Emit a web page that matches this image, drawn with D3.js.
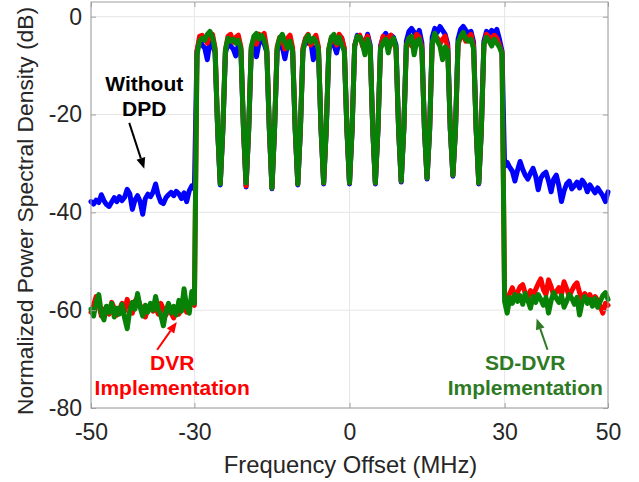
<!DOCTYPE html>
<html>
<head>
<meta charset="utf-8">
<script src="https://cdn.jsdelivr.net/npm/d3@7"></script>
<style>
  body { margin: 0; background: #fff; }
  svg { display: block; font-family: "Liberation Sans", Arial, sans-serif; }
</style>
</head>
<body>
<svg id="chart"></svg>
<script>
// frequency offset grid (MHz), one row = 5 MHz
const freq = [
  -50,-49.5,-49,-48.5,-48,-47.5,-47,-46.5,-46,-45.5,
  -45,-44.5,-44,-43.5,-43,-42.5,-42,-41.5,-41,-40.5,
  -40,-39.5,-39,-38.5,-38,-37.5,-37,-36.5,-36,-35.5,
  -35,-34.5,-34,-33.5,-33,-32.5,-32,-31.5,-31,-30.5,
  -30,-29.5,-29,-28.5,-28,-27.5,-27,-26.5,-26,-25.5,
  -25,-24.5,-24,-23.5,-23,-22.5,-22,-21.5,-21,-20.5,
  -20,-19.5,-19,-18.5,-18,-17.5,-17,-16.5,-16,-15.5,
  -15,-14.5,-14,-13.5,-13,-12.5,-12,-11.5,-11,-10.5,
  -10,-9.5,-9,-8.5,-8,-7.5,-7,-6.5,-6,-5.5,
  -5,-4.5,-4,-3.5,-3,-2.5,-2,-1.5,-1,-0.5,
  0,0.5,1,1.5,2,2.5,3,3.5,4,4.5,
  5,5.5,6,6.5,7,7.5,8,8.5,9,9.5,
  10,10.5,11,11.5,12,12.5,13,13.5,14,14.5,
  15,15.5,16,16.5,17,17.5,18,18.5,19,19.5,
  20,20.5,21,21.5,22,22.5,23,23.5,24,24.5,
  25,25.5,26,26.5,27,27.5,28,28.5,29,29.5,
  30,30.5,31,31.5,32,32.5,33,33.5,34,34.5,
  35,35.5,36,36.5,37,37.5,38,38.5,39,39.5,
  40,40.5,41,41.5,42,42.5,43,43.5,44,44.5,
  45,45.5,46,46.5,47,47.5,48,48.5,49,49.5,
  50
];

// normalized PSD (dB), without DPD
const withoutDpd = [
  -37.8,-38.3,-37.5,-38.0,-36.4,-37.6,-38.4,-38.8,-37.9,-37.0,
  -37.8,-36.8,-37.6,-36.9,-35.3,-36.2,-39.4,-37.5,-36.6,-37.8,
  -40.4,-37.2,-36.3,-36.8,-35.9,-34.2,-36.5,-37.9,-38.2,-37.0,
  -36.4,-35.9,-36.6,-35.7,-36.2,-37.2,-36.0,-37.8,-35.6,-34.6,
  -35.2,-7.0,-4.6,-5.8,-6.4,-8.8,-5.2,-5.6,-7.4,-23.2,
  -34.4,-23.2,-7.4,-5.4,-6.0,-6.6,-8.0,-5.8,-7.0,-23.2,
  -34.8,-23.2,-6.8,-5.0,-8.2,-5.4,-4.6,-5.6,-7.2,-23.2,
  -35.2,-23.2,-7.0,-5.6,-6.2,-8.6,-5.8,-4.8,-7.0,-23.2,
  -34.4,-23.2,-6.8,-4.6,-5.4,-5.0,-8.8,-6.2,-7.0,-23.2,
  -34.2,-23.2,-7.0,-4.8,-5.8,-7.4,-5.0,-4.4,-6.8,-23.2,
  -34.2,-23.2,-6.0,-3.8,-4.2,-4.8,-5.6,-3.6,-5.8,-23.2,
  -34.2,-23.2,-6.0,-4.2,-3.4,-4.6,-3.8,-4.2,-5.8,-23.2,
  -33.8,-23.2,-5.0,-3.0,-2.4,-3.2,-3.8,-2.8,-5.4,-23.2,
  -33.2,-23.2,-4.2,-2.4,-3.2,-2.0,-2.8,-3.6,-5.6,-23.2,
  -32.6,-23.2,-4.6,-2.6,-2.0,-2.8,-3.4,-3.0,-5.2,-23.2,
  -34.2,-23.2,-5.0,-3.0,-3.6,-2.8,-3.4,-2.6,-4.6,-7.0,
  -30.6,-29.8,-30.8,-31.6,-33.6,-31.4,-29.6,-31.2,-32.4,-33.2,
  -32.0,-31.0,-32.6,-35.4,-33.0,-32.2,-31.8,-33.6,-35.8,-33.2,
  -32.4,-34.6,-37.8,-35.6,-34.2,-33.6,-35.2,-34.6,-33.8,-35.0,
  -33.4,-34.2,-35.8,-34.4,-35.2,-36.0,-35.0,-35.8,-36.6,-37.8,
  -35.8
];

// DVR implementation
const dvr = [
  -60.4,-59.0,-57.2,-58.8,-61.2,-60.0,-59.3,-60.8,-58.4,-59.6,
  -61.0,-59.8,-58.6,-60.2,-57.8,-59.4,-60.6,-58.2,-57.4,-59.0,
  -60.3,-61.4,-59.6,-58.8,-60.2,-59.2,-60.8,-58.6,-59.8,-61.0,
  -59.6,-60.6,-61.6,-59.4,-60.8,-59.6,-58.8,-60.4,-59.2,-58.4,
  -59.0,-7.2,-4.0,-3.8,-4.6,-5.4,-3.8,-3.6,-6.4,-23.0,
  -34.0,-23.0,-6.8,-4.0,-3.6,-5.2,-4.2,-3.8,-6.2,-23.0,
  -34.6,-23.0,-6.4,-4.4,-5.6,-3.6,-4.0,-3.4,-6.6,-23.0,
  -35.0,-23.0,-6.2,-4.2,-4.8,-6.6,-4.4,-3.8,-6.4,-23.0,
  -34.2,-23.0,-6.4,-4.4,-3.6,-5.8,-4.8,-3.8,-6.2,-23.0,
  -34.0,-23.0,-6.6,-4.2,-4.6,-5.8,-3.6,-4.4,-6.4,-23.0,
  -34.0,-23.0,-5.8,-4.2,-3.8,-6.0,-4.8,-4.0,-6.4,-23.0,
  -34.0,-23.0,-6.4,-4.0,-5.6,-4.2,-3.8,-5.2,-6.6,-23.0,
  -33.6,-23.0,-5.8,-4.4,-6.0,-4.6,-3.6,-4.2,-6.2,-23.0,
  -33.0,-23.0,-5.6,-3.8,-4.4,-5.6,-4.6,-4.0,-6.4,-23.0,
  -32.4,-23.0,-5.6,-4.2,-3.8,-5.0,-4.2,-3.6,-6.0,-23.0,
  -34.0,-23.0,-5.8,-3.6,-4.2,-4.8,-3.8,-4.4,-5.8,-7.4,
  -57.0,-57.8,-56.6,-55.4,-57.2,-56.4,-55.2,-54.8,-56.6,-57.4,
  -56.0,-57.0,-55.8,-54.6,-53.6,-55.8,-56.8,-53.8,-55.2,-57.0,
  -56.2,-55.4,-56.8,-54.2,-55.6,-57.2,-56.0,-55.0,-54.4,-56.4,
  -57.8,-56.6,-57.6,-56.8,-58.4,-57.2,-58.0,-59.2,-60.6,-58.6,
  -59.0
];

// SD-DVR implementation
const sdDvr = [
  -59.8,-61.2,-58.4,-56.8,-60.6,-62.0,-59.2,-60.4,-58.6,-61.4,
  -59.6,-60.8,-58.8,-61.6,-63.8,-60.0,-58.4,-59.8,-56.6,-59.4,
  -61.2,-59.0,-60.4,-58.6,-60.0,-57.2,-59.8,-61.0,-63.2,-60.2,
  -58.6,-60.6,-59.2,-61.0,-58.0,-60.2,-55.6,-59.4,-60.6,-56.2,
  -58.6,-7.8,-5.0,-4.4,-4.8,-3.6,-3.0,-4.2,-6.8,-23.0,
  -34.2,-23.0,-6.8,-4.4,-5.0,-4.6,-5.4,-4.8,-6.6,-23.0,
  -34.0,-23.0,-6.2,-4.0,-3.4,-4.6,-3.8,-4.8,-7.0,-23.0,
  -35.0,-23.0,-6.6,-4.4,-3.6,-5.2,-6.4,-5.0,-7.2,-23.0,
  -34.2,-23.0,-7.0,-4.8,-3.8,-5.2,-4.4,-5.0,-6.8,-23.0,
  -34.0,-23.0,-6.6,-4.2,-3.6,-5.4,-4.2,-5.8,-7.0,-23.0,
  -34.0,-23.0,-6.0,-4.0,-4.2,-5.6,-7.8,-4.6,-6.2,-23.0,
  -34.0,-23.0,-6.6,-5.2,-4.6,-7.4,-5.0,-4.4,-6.4,-23.0,
  -33.6,-23.0,-6.0,-4.4,-4.0,-7.8,-5.0,-4.6,-6.8,-23.0,
  -33.0,-23.0,-5.4,-3.4,-5.0,-6.0,-8.8,-6.2,-7.0,-23.0,
  -32.4,-23.0,-5.4,-4.0,-3.2,-4.6,-5.0,-4.6,-6.6,-23.0,
  -34.0,-23.0,-5.6,-4.2,-5.0,-6.0,-4.6,-5.4,-6.2,-7.6,
  -58.2,-60.6,-57.4,-58.6,-56.8,-58.2,-57.0,-58.8,-56.6,-58.0,
  -59.6,-57.2,-58.4,-56.8,-57.8,-59.0,-57.4,-60.6,-58.0,-56.4,
  -57.6,-58.4,-57.0,-59.4,-58.2,-56.8,-57.6,-58.8,-57.4,-61.0,
  -58.4,-57.2,-58.6,-57.8,-59.2,-57.6,-59.4,-58.2,-57.0,-56.4,
  -57.8
];

const xTicks = [-50, -30, 0, 30, 50];
const yTicks = [-80, -60, -40, -20, 0];

// text callouts, placed in data units
const notes = [
  {lines: ['Without', 'DPD'], at: [-39.7, -15.2], from: [-42.6, -21.7], to: [-39.7, -31.1], color: '#000000'},
  {lines: ['DVR', 'Implementation'], at: [-34.3, -72.2], from: [-37.2, -68.1], to: [-33.4, -62.4], color: '#ff0000'},
  {lines: ['SD-DVR', 'Implementation'], at: [34.0, -72.2], from: [38.3, -68.1], to: [36.2, -61.7], color: '#2e7a24'}
];

class PsdChart {

    margin = {top: 2, bottom: 74, left: 91, right: 31}

    constructor(svg, width=639, height=482) {
        this.svg = d3.select(svg);
        this.width = width;
        this.height = height;
        this.plotW = width - this.margin.left - this.margin.right;
        this.plotH = height - this.margin.top - this.margin.bottom;
    }

    initialize() {
        this.svg.attr('width', this.width).attr('height', this.height);

        this.xScale = d3.scaleLinear().domain([-50, 50]).range([0, this.plotW]);
        this.yScale = d3.scaleLinear().domain([-80, 3]).range([this.plotH, 0]);

        this.container = this.svg.append('g')
            .attr('transform', `translate(${this.margin.left}, ${this.margin.top})`);
        this.grid = this.container.append('g');
        this.lines = this.container.append('g');
        this.frame = this.container.append('g');
        this.notesG = this.container.append('g');
    }

    drawGrid() {
        this.grid.selectAll('.vg').data(xTicks).enter().append('line')
            .attr('x1', d => this.xScale(d)).attr('x2', d => this.xScale(d))
            .attr('y1', 0).attr('y2', this.plotH)
            .attr('stroke', '#e6e6e6').attr('stroke-width', 1);
        this.grid.selectAll('.hg').data(yTicks).enter().append('line')
            .attr('y1', d => this.yScale(d)).attr('y2', d => this.yScale(d))
            .attr('x1', 0).attr('x2', this.plotW)
            .attr('stroke', '#e6e6e6').attr('stroke-width', 1);
    }

    drawSeries(values, color) {
        const pts = freq.map((f, i) => [f, values[i]]);
        const line = d3.line()
            .x(d => this.xScale(d[0]))
            .y(d => this.yScale(d[1]));
        this.lines.append('path')
            .datum(pts)
            .attr('d', line)
            .attr('fill', 'none')
            .attr('stroke', color)
            .attr('stroke-width', 5)
            .attr('stroke-linejoin', 'round')
            .attr('stroke-linecap', 'round');
    }

    drawAxes() {
        const axisColor = '#a0a0a0';
        const textColor = '#262626';
        const fmt = d => String(d);   // plain hyphen, like the original

        const bottom = this.frame.append('g')
            .attr('transform', `translate(0, ${this.plotH})`)
            .call(d3.axisBottom(this.xScale).tickValues(xTicks).tickFormat(fmt).tickSizeInner(-5).tickSizeOuter(0).tickPadding(16));
        const top = this.frame.append('g')
            .call(d3.axisTop(this.xScale).tickValues(xTicks).tickSizeInner(-5).tickSizeOuter(0).tickFormat(''));
        const left = this.frame.append('g')
            .call(d3.axisLeft(this.yScale).tickValues(yTicks).tickFormat(fmt).tickSizeInner(-5).tickSizeOuter(0).tickPadding(9));
        const right = this.frame.append('g')
            .attr('transform', `translate(${this.plotW}, 0)`)
            .call(d3.axisRight(this.yScale).tickValues(yTicks).tickSizeInner(-5).tickSizeOuter(0).tickFormat(''));

        [bottom, top, left, right].forEach(g => {
            g.select('.domain').remove();
            g.selectAll('.tick line').attr('stroke', axisColor);
            g.selectAll('.tick text')
                .attr('fill', textColor)
                .attr('font-size', '23px')
                .attr('font-family', '"Liberation Sans", Arial, sans-serif');
        });

        this.frame.append('rect')
            .attr('x', 0).attr('y', 0)
            .attr('width', this.plotW).attr('height', this.plotH)
            .attr('fill', 'none').attr('stroke', axisColor).attr('stroke-width', 1);

        this.svg.append('text')
            .attr('x', this.margin.left + this.xScale(0) + 1)
            .attr('y', 473)
            .attr('text-anchor', 'middle')
            .attr('font-size', '23.8px')
            .attr('fill', textColor)
            .text('Frequency Offset (MHz)');

        this.svg.append('text')
            .attr('transform', `translate(33, 211) rotate(-90)`)
            .attr('text-anchor', 'middle')
            .attr('font-size', '22.8px')
            .attr('fill', textColor)
            .text('Normalized Power Spectral Density (dB)');
    }

    drawNotes() {
        notes.forEach(n => {
            const tx = this.xScale(n.at[0]), ty = this.yScale(n.at[1]);
            const t = this.notesG.append('text')
                .attr('text-anchor', 'middle')
                .attr('font-size', '21px')
                .attr('font-weight', 'bold')
                .attr('fill', n.color);
            n.lines.forEach((s, i) => {
                t.append('tspan').attr('x', tx).attr('y', ty + i * 25).text(s);
            });

            const x1 = this.xScale(n.from[0]), y1 = this.yScale(n.from[1]);
            const x2 = this.xScale(n.to[0]), y2 = this.yScale(n.to[1]);
            const len = Math.hypot(x2 - x1, y2 - y1);
            const ux = (x2 - x1) / len, uy = (y2 - y1) / len;
            const head = 11, half = 4.5;
            const bx = x2 - ux * head, by = y2 - uy * head;
            this.notesG.append('line')
                .attr('x1', x1).attr('y1', y1).attr('x2', bx).attr('y2', by)
                .attr('stroke', n.color).attr('stroke-width', 2);
            this.notesG.append('polygon')
                .attr('points', [[x2, y2], [bx - uy * half, by + ux * half], [bx + uy * half, by - ux * half]].join(' '))
                .attr('fill', n.color);
        });
    }
}

const chart = new PsdChart('#chart');
chart.initialize();
chart.drawGrid();
chart.drawSeries(withoutDpd, '#0000ff');
chart.drawSeries(dvr, '#ff0000');
chart.drawSeries(sdDvr, '#078207');
chart.drawAxes();
chart.drawNotes();
</script>
</body>
</html>
